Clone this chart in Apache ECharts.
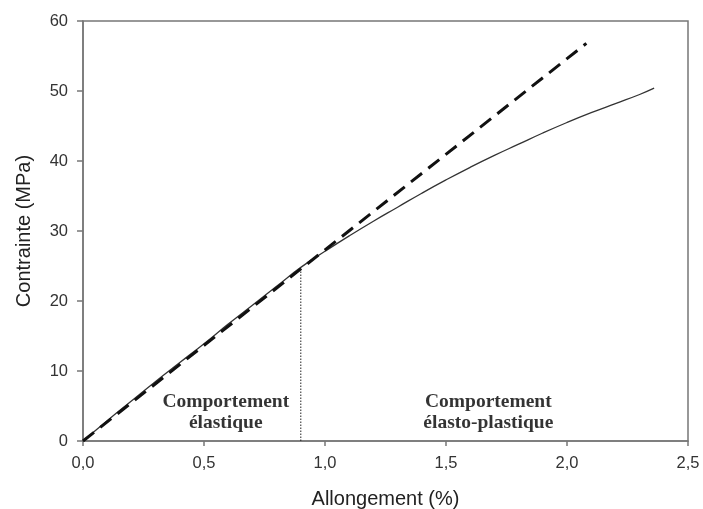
<!DOCTYPE html>
<html><head><meta charset="utf-8">
<script src="https://cdn.jsdelivr.net/npm/echarts@6/dist/echarts.min.js"></script>
<style>html,body{margin:0;padding:0;background:#fff}#c{width:703px;height:509px}</style>
</head><body><div id="c"></div>
<script>
// Courbe mesurée (trait plein)
const allongement = [0, 0.1, 0.2, 0.3, 0.4, 0.5, 0.6, 0.7, 0.8, 0.9, 1.0, 1.1, 1.2, 1.3, 1.4, 1.5, 1.6, 1.7, 1.8, 1.9, 2.0, 2.1, 2.2, 2.3, 2.36];
const contrainte  = [0, 2.9, 5.7, 8.5, 11.2, 13.9, 16.7, 19.4, 22.1, 24.8, 27.1, 29.3, 31.4, 33.4, 35.4, 37.3, 39.1, 40.8, 42.4, 44.0, 45.5, 46.9, 48.2, 49.5, 50.4];
// Droite élastique (tirets)
const droiteX = [0, 2.08];
const droiteY = [0, 56.8];
// Limite élastique (pointillés)
const limiteX = [0.9, 0.9];
const limiteY = [0, 24.8];
// Annotations
const annotX = [0.59, 1.675];
const annotY = [4.1, 4.1];
const annotTexts = ['Comportement\nélastique', 'Comportement\nélasto-plastique'];
// Axes
const xTicks = [0, 0.5, 1.0, 1.5, 2.0, 2.5];
const yTicks = [0, 10, 20, 30, 40, 50, 60];

const zip = (a, b) => a.map((v, i) => [v, b[i]]);
const chart = echarts.init(document.getElementById('c'));
chart.setOption({
  animation: false,
  backgroundColor: '#fff',
  grid: { left: 83, right: 15, top: 21, bottom: 68, containLabel: false, outerBoundsMode: 'none',
    show: true, borderColor: '#777', borderWidth: 1.5 },
  xAxis: {
    type: 'value', min: xTicks[0], max: xTicks[xTicks.length - 1], interval: 0.5,
    name: 'Allongement (%)', nameLocation: 'middle', nameGap: 48,
    nameTextStyle: { fontFamily: 'Liberation Sans', fontSize: 20, color: '#222' },
    axisLine: { show: true, lineStyle: { color: '#777', width: 1.5 } },
    axisTick: { show: true, length: 5, lineStyle: { color: '#777', width: 1.5 } },
    axisLabel: { fontFamily: 'Liberation Sans', fontSize: 16.5, color: '#333', margin: 14,
      formatter: v => v.toFixed(1).replace('.', ',') },
    splitLine: { show: false }
  },
  yAxis: {
    type: 'value', min: yTicks[0], max: yTicks[yTicks.length - 1], interval: 10,
    name: 'Contrainte (MPa)', nameLocation: 'middle', nameGap: 49,
    nameTextStyle: { fontFamily: 'Liberation Sans', fontSize: 20, color: '#222' },
    axisLine: { show: true, lineStyle: { color: '#777', width: 1.5 } },
    axisTick: { show: true, length: 6, lineStyle: { color: '#777', width: 1.5 } },
    axisLabel: { fontFamily: 'Liberation Sans', fontSize: 16.5, color: '#333', margin: 15 },
    splitLine: { show: false }
  },
  series: [
    { type: 'line', data: zip(allongement, contrainte), showSymbol: false, smooth: true,
      lineStyle: { color: '#333', width: 1.3 } },
    { type: 'line', data: zip(droiteX, droiteY), showSymbol: false,
      lineStyle: { color: '#111', width: 3, type: [14, 8] } },
    { type: 'line', data: zip(limiteX, limiteY), showSymbol: false,
      lineStyle: { color: '#222', width: 1, type: [1.5, 1.5] } },
    { type: 'scatter', data: zip(annotX, annotY), symbolSize: 0, silent: true,
      label: { show: true, position: 'inside', formatter: p => annotTexts[p.dataIndex],
        fontFamily: 'Liberation Serif', fontWeight: 'bold', fontSize: 19.5, lineHeight: 21,
        color: '#000', align: 'center', verticalAlign: 'middle' } }
  ]
});
</script></body></html>
